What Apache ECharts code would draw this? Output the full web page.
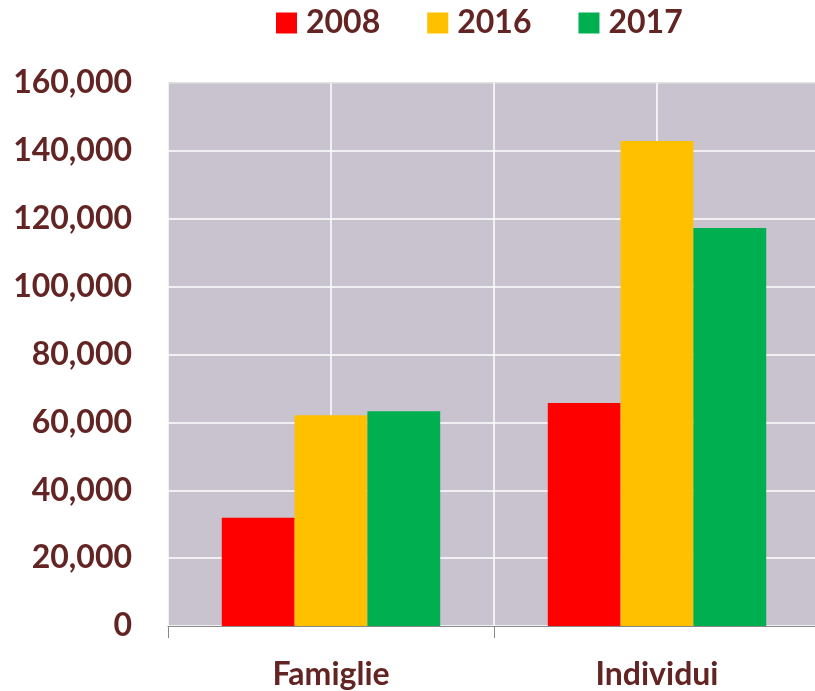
<!DOCTYPE html>
<html>
<head>
<meta charset="utf-8">
<script src="https://cdn.jsdelivr.net/npm/echarts@6/dist/echarts.min.js"></script>
<style>
  html, body { margin: 0; padding: 0; background: #fff; }
  #chart { width: 815px; height: 691px; }
</style>
</head>
<body>
<div id="chart"></div>
<script>
const categories = ["Famiglie", "Individui"];
const years = ["2008", "2016", "2017"];
const values2008 = [31900, 65700];
const values2016 = [62100, 142900];
const values2017 = [63300, 117300];
const colors = ["#FF0000", "#FFC000", "#00B050"];

const labelColor = "#632523";
const fontFamily = "Lato, 'Open Sans', sans-serif";

const chart = echarts.init(document.getElementById("chart"));

const seriesValues = [values2008, values2016, values2017];

const option = {
  animation: false,
  legend: {
    left: 271,
    top: 2,
    itemWidth: 21,
    itemHeight: 21,
    itemGap: 47,
    icon: "rect",
    textStyle: {
      color: labelColor,
      fontFamily: fontFamily,
      fontWeight: "bold",
      fontSize: 32,
      padding: [0, 0, 0, 4],
    },
    data: years,
  },
  grid: {
    left: 168,
    top: 83,
    width: 652,
    height: 543,
    outerBoundsMode: "none",
    show: true,
    backgroundColor: "#C8C3CE",
    borderWidth: 0,
  },
  xAxis: [
    {
      type: "category",
      data: categories,
      axisLine: { lineStyle: { color: "#898989", width: 1 } },
      axisTick: { show: true, length: 12, lineStyle: { color: "#898989" } },
      axisLabel: {
        color: labelColor,
        fontFamily: fontFamily,
        fontWeight: "bold",
        fontSize: 32,
        margin: 33,
      },
      splitLine: { show: false },
    },
    {
      // helper axis only for the white vertical gridlines
      type: "value",
      position: "top",
      min: 0,
      max: 4,
      interval: 1,
      axisLine: { show: false },
      axisTick: { show: false },
      axisLabel: { show: false },
      splitLine: { show: true, lineStyle: { color: "#FFFFFF", width: 1.5 } },
    },
  ],
  yAxis: {
    type: "value",
    min: 0,
    max: 160000,
    interval: 20000,
    axisLine: { show: false },
    axisTick: { show: false },
    axisLabel: {
      color: labelColor,
      fontFamily: fontFamily,
      fontWeight: "bold",
      fontSize: 32,
      margin: 36,
      formatter: (v) => v.toLocaleString("en-US"),
    },
    splitLine: {
      show: true,
      lineStyle: {
        color: ["#FFFFFF", "#FFFFFF", "#FFFFFF", "#FFFFFF", "#FFFFFF", "#FFFFFF", "#FFFFFF", "#FFFFFF", "#D9D9D9"],
        width: 1.5,
      },
    },
  },
  series: years.map((year, i) => ({
    name: year,
    type: "bar",
    xAxisIndex: 0,
    barGap: 0,
    barCategoryGap: "33%",
    itemStyle: { color: colors[i] },
    data: seriesValues[i],
  })),
};

chart.setOption(option);
</script>
</body>
</html>
